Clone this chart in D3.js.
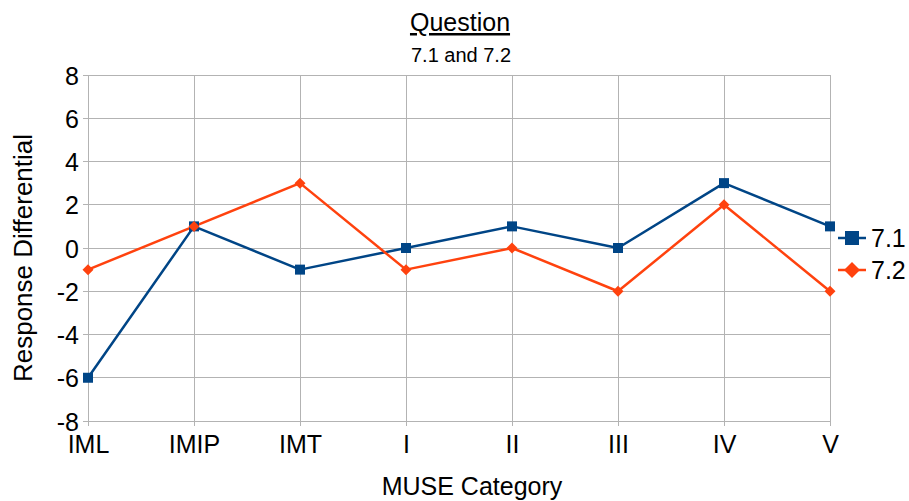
<!DOCTYPE html>
<html>
<head>
<meta charset="utf-8">
<script src="https://cdn.jsdelivr.net/npm/d3@7"></script>
<style>
  html, body { margin: 0; padding: 0; background: #fff; }
  text { font-family: "Liberation Sans", Arial, sans-serif; fill: #000; }
</style>
</head>
<body>
<svg id="chart" width="909" height="501"></svg>
<script>
// Categories and series values
const categories = ["IML", "IMIP", "IMT", "I", "II", "III", "IV", "V"];
const series71 = [-6, 1, -1, 0, 1, 0, 3, 1];
const series72 = [-1, 1, 3, -1, 0, -2, 2, -2];
const yTicks = [-8, -6, -4, -2, 0, 2, 4, 6, 8];
const seriesNames = ["7.1", "7.2"];
const seriesColors = ["#004586", "#ff420e"];

const FONT = "Liberation Sans, Arial, sans-serif";
const svg = d3.select("#chart");
const plot = { left: 88, right: 830, top: 75, bottom: 421 };

const x = d3.scalePoint().domain(categories).range([plot.left, plot.right]);
const y = d3.scaleLinear().domain([-8, 8]).range([plot.bottom, plot.top]);

// Grid lines
const grid = svg.append("g");
grid.selectAll("line.h").data(yTicks).join("line")
  .attr("x1", plot.left - 5).attr("x2", plot.right)
  .attr("y1", d => y(d)).attr("y2", d => y(d))
  .attr("stroke", "#b3b3b3").attr("stroke-width", 1)
  .attr("shape-rendering", "crispEdges");
grid.selectAll("line.v").data(categories).join("line")
  .attr("x1", d => x(d)).attr("x2", d => x(d))
  .attr("y1", plot.top).attr("y2", plot.bottom + 5)
  .attr("stroke", "#b3b3b3").attr("stroke-width", 1)
  .attr("shape-rendering", "crispEdges");

// Y axis labels (plain hyphen for negatives)
const yAxis = svg.append("g").attr("transform", `translate(${plot.left - 9},0)`)
  .call(d3.axisLeft(y).tickValues(yTicks).tickFormat(d => String(d)).tickSize(0).tickPadding(0));
yAxis.select(".domain").remove();
yAxis.selectAll("text").attr("font-size", 25).attr("dy", "0.36em")
  .style("font-family", FONT).attr("fill", "#000");

// X axis labels
const xAxis = svg.append("g").attr("transform", `translate(0,${plot.bottom + 32})`)
  .call(d3.axisBottom(x).tickSize(0).tickPadding(0));
xAxis.select(".domain").remove();
xAxis.selectAll("text").attr("font-size", 25).attr("dy", 0).attr("y", 0)
  .style("font-family", FONT).attr("fill", "#000");

// Series lines and markers
const allSeries = [series71, series72];
const line = d3.line().x((d, i) => x(categories[i])).y(d => y(d));
allSeries.forEach((vals, s) => {
  svg.append("path").datum(vals)
    .attr("d", line).attr("fill", "none")
    .attr("stroke", seriesColors[s]).attr("stroke-width", 2.5)
    .attr("stroke-linejoin", "round");
});
const squarePath = r => `M${-r},${-r}H${r}V${r}H${-r}Z`;
const diamondPath = r => `M0,${-r}L${r},0L0,${r}L${-r},0Z`;
svg.append("g").selectAll("path").data(series71).join("path")
  .attr("d", squarePath(5))
  .attr("transform", (d, i) => `translate(${x(categories[i])},${y(d)})`)
  .attr("fill", seriesColors[0]);
svg.append("g").selectAll("path").data(series72).join("path")
  .attr("d", diamondPath(5.5))
  .attr("transform", (d, i) => `translate(${x(categories[i])},${y(d)})`)
  .attr("fill", seriesColors[1]);

// Legend
const legend = svg.append("g");
seriesNames.forEach((name, i) => {
  const ly = 238 + i * 32;
  legend.append("line").attr("x1", 838).attr("x2", 866).attr("y1", ly).attr("y2", ly)
    .attr("stroke", seriesColors[i]).attr("stroke-width", 2.5);
  legend.append("path").attr("d", i === 0 ? squarePath(7) : diamondPath(8))
    .attr("transform", `translate(852,${ly})`).attr("fill", seriesColors[i]);
  legend.append("text").attr("x", 871).attr("y", ly).attr("dy", "0.36em")
    .attr("font-size", 25).text(name);
});

// Titles
svg.append("text").attr("x", 460).attr("y", 31).attr("text-anchor", "middle")
  .attr("font-size", 25).attr("text-decoration", "underline").text("Question");
svg.append("text").attr("x", 461).attr("y", 62).attr("text-anchor", "middle")
  .attr("font-size", 20).text("7.1 and 7.2");
svg.append("text").attr("x", 472).attr("y", 495).attr("text-anchor", "middle")
  .attr("font-size", 25).text("MUSE Category");
svg.append("text").attr("transform", "translate(32,258) rotate(-90)")
  .attr("text-anchor", "middle").attr("font-size", 26).text("Response Differential");
</script>
</body>
</html>
